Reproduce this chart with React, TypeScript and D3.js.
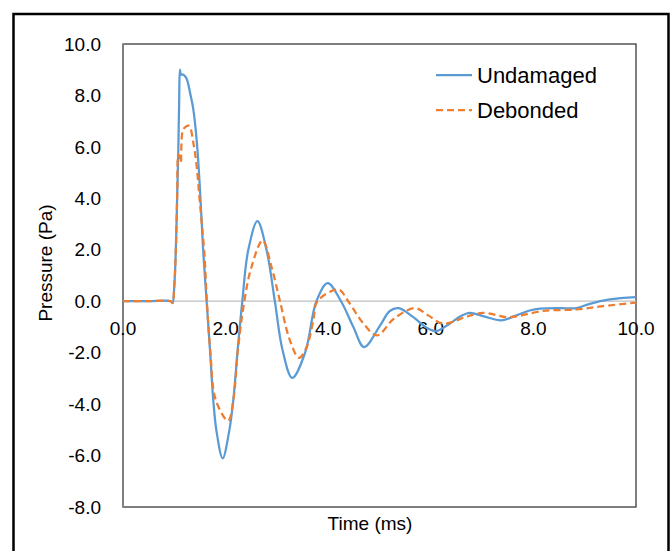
import React from "react";
import * as d3 from "d3";

// Pressure time histories (time in ms, pressure in Pa)
const undamagedTime = [
  0, 0.5, 0.93, 0.965, 1.0, 1.03, 1.055, 1.078, 1.095, 1.11, 1.13, 1.16, 1.23, 1.32, 1.37, 1.44,
  1.5, 1.565, 1.63, 1.696, 1.76, 1.826, 1.943, 2.066, 2.15, 2.235, 2.326, 2.44, 2.62, 2.8, 2.96,
  3.11, 3.3, 3.55, 3.77, 3.99, 4.25, 4.49, 4.7, 5.01, 5.2, 5.37, 5.66, 5.92, 6.11, 6.37, 6.57,
  6.76, 7.05, 7.38, 7.67, 7.93, 8.13, 8.52, 8.84, 9.1, 9.49, 10,
];
const undamagedPressure = [
  0, 0, 0, -0.07, 0.6, 2.0, 4.0, 5.9, 7.8, 9.0, 8.8, 8.82, 8.69, 7.98, 7.47, 6.17,
  4.36, 1.9, 0, -1.9, -3.85, -5.1, -6.11, -5.1, -3.85, -1.9, 0, 1.97, 3.11, 1.97, 0,
  -1.9, -2.98, -2.0, 0, 0.7, 0, -1.0, -1.78, -0.95, -0.38, -0.27, -0.62, -1.03, -1.16, -0.87, -0.59,
  -0.45, -0.6, -0.74, -0.55, -0.36, -0.29, -0.27, -0.27, -0.1, 0.07, 0.16,
];

const debondedTime = [
  0, 0.5, 0.93, 0.965, 1.0, 1.03, 1.055, 1.078, 1.1, 1.125, 1.164, 1.22, 1.29, 1.37, 1.435,
  1.487, 1.534, 1.585, 1.635, 1.7, 1.81, 2.05, 2.15, 2.24, 2.365, 2.5, 2.72, 2.9, 3.06, 3.25,
  3.43, 3.58, 3.71, 3.79, 4.2, 4.39, 4.68, 4.95, 5.28, 5.69, 5.95, 6.24, 6.7, 7.02, 7.48, 7.67,
  8.19, 8.84, 9.36, 10,
];
const debondedPressure = [
  0, 0, 0, -0.07, 0.6, 2.0, 4.0, 5.72, 5.6, 5.4, 6.63, 6.78, 6.82, 6.17, 5.27,
  4.1, 3.07, 1.9, 0, -1.9, -3.85, -4.65, -3.85, -1.9, 0, 1.3, 2.36, 1.3, 0, -1.5,
  -2.2, -1.78, -0.74, 0, 0.45, 0, -0.85, -1.33, -0.68, -0.27, -0.55, -0.87, -0.6, -0.45, -0.62, -0.59,
  -0.38, -0.32, -0.19, -0.05,
];

const xTicks = [0, 2, 4, 6, 8, 10];
const yTicks = [-8, -6, -4, -2, 0, 2, 4, 6, 8, 10];
const seriesNames = ["Undamaged", "Debonded"];

const W = 672;
const H = 551;
const plot = { left: 123, right: 636, top: 44, bottom: 507 };
const BLUE = "#5B9BD5";
const ORANGE = "#ED7D31";
const FONT = "'Liberation Sans', Arial, sans-serif";

// one decimal place, plain hyphen for negatives
const fmt = (v: number) => v.toFixed(1);

export default function App() {
  const x = d3.scaleLinear().domain([0, 10]).range([plot.left, plot.right]);
  const y = d3.scaleLinear().domain([-8, 10]).range([plot.bottom, plot.top]);

  const line = d3
    .line<[number, number]>()
    .x((d) => x(d[0]))
    .y((d) => y(d[1]))
    .curve(d3.curveCatmullRom.alpha(0.5));

  const undamaged = undamagedTime.map((t, i) => [t, undamagedPressure[i]] as [number, number]);
  const debonded = debondedTime.map((t, i) => [t, debondedPressure[i]] as [number, number]);

  const y0 = y(0);

  return (
    <svg
      width={W}
      height={H}
      style={{ position: "absolute", left: 0, top: 0, background: "#fff" }}
      fontFamily={FONT}
    >
      <rect x={0} y={0} width={W} height={H} fill="#fff" />
      {/* outer frame */}
      <rect x={13.5} y={14} width={655} height={560} fill="none" stroke="#000" strokeWidth={2.5} />

      {/* plot area */}
      <rect
        x={plot.left}
        y={plot.top}
        width={plot.right - plot.left}
        height={plot.bottom - plot.top}
        fill="none"
        stroke="#3a3a3a"
        strokeWidth={1.3}
      />
      <line x1={plot.left} x2={plot.left} y1={plot.top} y2={plot.bottom} stroke="#7f7f7f" strokeWidth={2} />

      {/* zero line */}
      <line x1={plot.left} x2={plot.right} y1={y0} y2={y0} stroke="#BFBFBF" strokeWidth={1.2} />

      {/* y tick labels */}
      {yTicks.map((v) => (
        <text key={"y" + v} x={101} y={y(v)} dy="0.35em" textAnchor="end" fontSize={19} fill="#000">
          {fmt(v)}
        </text>
      ))}

      {/* x tick labels, placed just below the zero line */}
      {xTicks.map((v) => (
        <text key={"x" + v} x={x(v)} y={y0 + 27} dy="0.35em" textAnchor="middle" fontSize={19} fill="#000">
          {fmt(v)}
        </text>
      ))}

      {/* series */}
      <path d={line(undamaged) ?? ""} fill="none" stroke={BLUE} strokeWidth={2.25} strokeLinejoin="round" />
      <path
        d={line(debonded) ?? ""}
        fill="none"
        stroke={ORANGE}
        strokeWidth={2.25}
        strokeDasharray="7,4"
        strokeLinejoin="round"
      />

      {/* axis titles */}
      <text x={370} y={530} textAnchor="middle" fontSize={19} fill="#000">
        Time (ms)
      </text>
      <text transform="translate(52, 263) rotate(-90)" textAnchor="middle" fontSize={19} fill="#000">
        Pressure (Pa)
      </text>

      {/* legend */}
      {seriesNames.map((name, i) => {
        const ly = 75 + i * 35;
        return (
          <g key={name}>
            <line
              x1={436}
              x2={472}
              y1={ly}
              y2={ly}
              stroke={i === 0 ? BLUE : ORANGE}
              strokeWidth={2.25}
              strokeDasharray={i === 0 ? undefined : "7,4"}
            />
            <text x={477} y={ly} dy="0.35em" fontSize={22} fill="#000">
              {name}
            </text>
          </g>
        );
      })}
    </svg>
  );
}
